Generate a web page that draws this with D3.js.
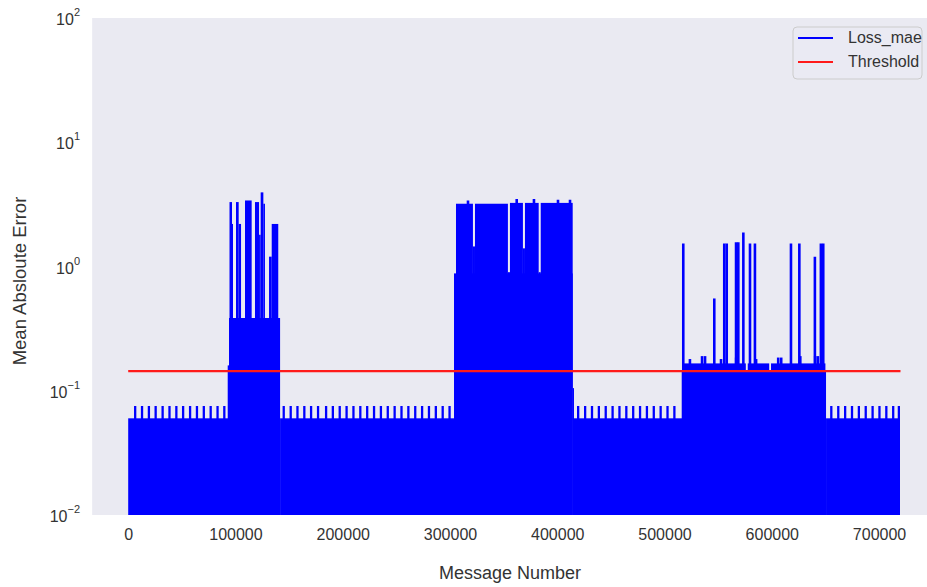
<!DOCTYPE html>
<html>
<head>
<meta charset="utf-8">
<script src="https://cdn.jsdelivr.net/npm/d3@7"></script>
<style>
  html, body { margin: 0; padding: 0; background: #ffffff; }
  svg { display: block; font-family: "Liberation Sans", Arial, sans-serif; }
</style>
</head>
<body>
<svg id="chart" width="927" height="587"></svg>
<script>
// ---------------- data ----------------
const xTickValues = [0, 100000, 200000, 300000, 400000, 500000, 600000, 700000];
const yTickExponents = [-2, -1, 0, 1, 2];
const xLabel = "Message Number";
const yLabel = "Mean Absloute Error";
const seriesNames = ["Loss_mae", "Threshold"];

const thresholdValue = 0.144;
const thresholdRange = [0, 720000];

// blocks of the Loss_mae envelope: [fromMessage, toMessage, maxLoss]
const lossBlocks = [
  [0, 93300, 0.060],
  [141600, 304300, 0.060],
  [414400, 516500, 0.060],
  [650600, 719500, 0.060],
  // anomaly 1
  [92770, 93980, 0.16],
  [93980, 141600, 0.385],
  [94450, 96770, 3.3], [96770, 97700, 2.2],
  [100500, 103000, 3.3], [103000, 105200, 2.2],
  [108900, 115100, 3.4],
  [118200, 122000, 3.3], [122000, 123500, 1.8],
  [123500, 126000, 3.95], [126000, 127500, 3.2],
  [131300, 133800, 1.2], [133800, 139900, 2.2],
  // anomaly 2
  [303750, 414400, 0.88],
  [305600, 321400, 3.2], [321400, 323300, 1.45],
  [323300, 354000, 3.2], [354000, 355900, 0.9],
  [355900, 368000, 3.25], [368000, 369900, 1.4],
  [369900, 382700, 3.25], [382700, 384600, 0.9],
  [384600, 414400, 3.25],
  [414400, 415600, 0.105],
  // anomaly 3
  [516050, 650580, 0.143],
  [516500, 575800, 0.166],
  [577600, 597600, 0.166],
  [599300, 650000, 0.166]
];

// narrow spikes of Loss_mae: [message, loss]
const lossSpikes = [
  [316800, 3.4], [362200, 3.5], [378300, 3.5], [400700, 3.45], [411900, 3.45],
  [517500, 1.53], [546400, 0.553], [555700, 1.53], [558000, 1.53],
  [566700, 1.57], [568800, 1.57], [573500, 1.88], [579700, 1.53],
  [584300, 1.53], [617900, 1.53], [625700, 1.53], [640200, 1.2],
  [645800, 1.53], [648000, 1.53],
  [523700, 0.18], [535000, 0.19], [537800, 0.19], [552700, 0.18], [566800, 0.185],
  [585400, 0.18], [606000, 0.185], [608800, 0.185], [626600, 0.19], [640500, 0.19],
  [643000, 0.19]
];

// small periodic teeth in the normal regions: message positions
const toothValue = 0.0754;
const teethPositions = [
  6500, 12900, 19300, 25600, 32100, 38500, 44900, 51200, 57700, 64100, 70500, 76900, 83300, 89600,
  145000, 151500, 157800, 164200, 170500, 177000, 184500, 190800, 197200, 203600, 210000,
  216400, 222800, 229200, 235600, 242000, 248400, 254800, 261200, 267600, 274000, 280400,
  286800, 293200, 299600,
  419500, 426000, 432400, 438800, 445200, 451600, 458000, 464400, 470800, 477200, 483600,
  490000, 496400, 502800, 509200,
  655500, 662000, 668400, 674800, 681200, 687600, 694000, 700400, 706800, 713200, 718500
];

// ---------------- layout ----------------
const plotTop = 18, plotBottom = 515;
const xDomain = [-33600, 756000];

const x = d3.scaleLinear().domain(xDomain).range([92.16, 939.1]);
const y = d3.scaleLog().domain([0.01, 100]).range([plotBottom, plotTop]);

const BLUE = "#0000ff", RED = "#ff1a1a", TEXT = "#333333", BG = "#eaeaf2";

const svg = d3.select("#chart");

svg.append("defs").append("clipPath").attr("id", "plotClip")
  .append("rect")
  .attr("x", x(xDomain[0])).attr("y", plotTop)
  .attr("width", x(xDomain[1]) - x(xDomain[0])).attr("height", plotBottom - plotTop);

svg.append("rect")
  .attr("x", x(xDomain[0])).attr("y", plotTop)
  .attr("width", x(xDomain[1]) - x(xDomain[0])).attr("height", plotBottom - plotTop)
  .attr("fill", BG);

const plot = svg.append("g").attr("clip-path", "url(#plotClip)");

plot.selectAll("rect.block").data(lossBlocks).join("rect")
  .attr("class", "block")
  .attr("x", d => x(d[0]))
  .attr("width", d => Math.max(0.8, x(d[1]) - x(d[0])))
  .attr("y", d => y(d[2]))
  .attr("height", d => plotBottom - y(d[2]))
  .attr("fill", BLUE);

plot.selectAll("line.tooth").data(teethPositions).join("line")
  .attr("class", "tooth")
  .attr("x1", d => x(d)).attr("x2", d => x(d))
  .attr("y1", plotBottom).attr("y2", y(toothValue))
  .attr("stroke", BLUE).attr("stroke-width", 2.3);

plot.selectAll("line.spike").data(lossSpikes).join("line")
  .attr("class", "spike")
  .attr("x1", d => x(d[0])).attr("x2", d => x(d[0]))
  .attr("y1", plotBottom).attr("y2", d => y(d[1]))
  .attr("stroke", BLUE).attr("stroke-width", 2.6);

plot.append("line")
  .attr("x1", x(thresholdRange[0])).attr("x2", x(thresholdRange[1]))
  .attr("y1", y(thresholdValue)).attr("y2", y(thresholdValue))
  .attr("stroke", RED).attr("stroke-width", 2.2);

// ---------------- axes ----------------
const xAxis = d3.axisBottom(x).tickValues(xTickValues).tickSize(0).tickPadding(14)
  .tickFormat(d3.format("d"));
const gx = svg.append("g").attr("transform", `translate(0,${plotBottom})`).call(xAxis);
gx.select(".domain").remove();
gx.selectAll("text").attr("fill", TEXT).attr("font-size", 16)
  .attr("font-family", "'Liberation Sans', Arial, sans-serif");

const gy = svg.append("g");
const yLab = gy.selectAll("text.ytick").data(yTickExponents).join("text")
  .attr("class", "ytick")
  .attr("x", 80)
  .attr("y", d => y(Math.pow(10, d)) + 7)
  .attr("text-anchor", "end")
  .attr("fill", TEXT)
  .attr("font-size", 16);
yLab.append("tspan").text("10");
yLab.append("tspan")
  .attr("dy", -9)
  .attr("font-size", 11)
  .text(d => d < 0 ? "\u2212" + Math.abs(d) : String(d));

svg.append("text")
  .attr("x", 510).attr("y", 579)
  .attr("text-anchor", "middle")
  .attr("fill", TEXT).attr("font-size", 18)
  .text(xLabel);

svg.append("text")
  .attr("transform", `translate(26,281) rotate(-90)`)
  .attr("text-anchor", "middle")
  .attr("fill", TEXT).attr("font-size", 18.5)
  .text(yLabel);

// ---------------- legend ----------------
const lg = svg.append("g");
lg.append("rect")
  .attr("x", 793).attr("y", 27).attr("width", 129).attr("height", 52).attr("rx", 4)
  .attr("fill", BG).attr("fill-opacity", 0.8).attr("stroke", "#cccccc").attr("stroke-width", 1);
const legendColors = [BLUE, RED];
seriesNames.forEach((name, i) => {
  const ly = 38 + i * 24;
  lg.append("line").attr("x1", 798).attr("x2", 833).attr("y1", ly).attr("y2", ly)
    .attr("stroke", legendColors[i]).attr("stroke-width", 2.2);
  lg.append("text").attr("x", 848).attr("y", ly + 5)
    .attr("fill", TEXT).attr("font-size", 16).text(name);
});
</script>
</body>
</html>
